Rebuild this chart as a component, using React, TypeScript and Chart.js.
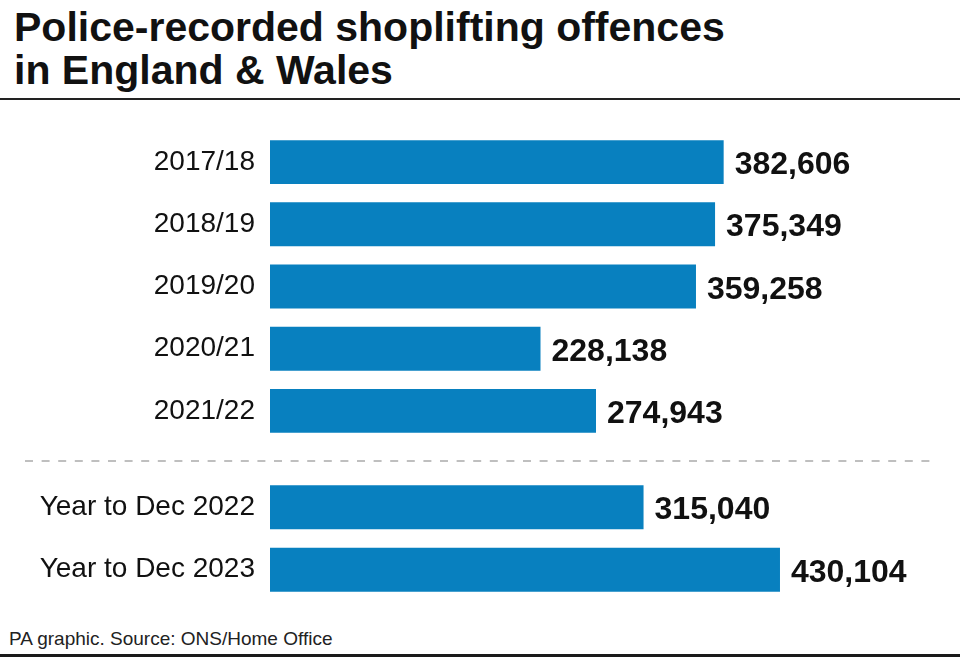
import React, { useEffect, useRef } from "react";
import { Chart, registerables } from "chart.js";

Chart.register(...registerables);

const topCategories = ["2017/18", "2018/19", "2019/20", "2020/21", "2021/22"];
const topValues = [382606, 375349, 359258, 228138, 274943];
const bottomCategories = ["Year to Dec 2022", "Year to Dec 2023"];
const bottomValues = [315040, 430104];

const BAR_COLOR = "#0880bf";
const X_MAX = 560000;
const FONT = "'Liberation Sans', Arial, sans-serif";

const valueLabels = {
  id: "valueLabels",
  afterDatasetsDraw(chart: any) {
    const ctx = chart.ctx;
    const meta = chart.getDatasetMeta(0);
    const data = chart.data.datasets[0].data as number[];
    ctx.save();
    ctx.font = `bold 32px ${FONT}`;
    ctx.fillStyle = "#111";
    ctx.textAlign = "left";
    ctx.textBaseline = "alphabetic";
    meta.data.forEach((bar: any, i: number) => {
      ctx.fillText(data[i].toLocaleString("en-GB"), bar.x + 11, bar.y + 12);
    });
    ctx.restore();
  },
};

const separator = {
  id: "separator",
  afterDraw(chart: any, _args: any, opts: any) {
    if (!opts || !opts.show) return;
    const ctx = chart.ctx;
    ctx.save();
    ctx.strokeStyle = "#ababab";
    ctx.lineWidth = 1.5;
    ctx.setLineDash([8, 8.6]);
    ctx.beginPath();
    ctx.moveTo(25, 11);
    ctx.lineTo(935, 11);
    ctx.stroke();
    ctx.restore();
  },
};

function makeConfig(labels: string[], values: number[], padTop: number, showSep: boolean): any {
  return {
    type: "bar",
    data: {
      labels,
      datasets: [
        {
          data: values,
          backgroundColor: BAR_COLOR,
          borderWidth: 0,
          barPercentage: 44 / 62.3,
          categoryPercentage: 1,
        },
      ],
    },
    options: {
      indexAxis: "y",
      animation: false,
      responsive: false,
      maintainAspectRatio: false,
      layout: { padding: { left: 0, right: 26, top: padTop, bottom: 0 } },
      plugins: {
        legend: { display: false },
        tooltip: { enabled: false },
        title: { display: false },
        separator: { show: showSep },
      },
      scales: {
        x: { display: false, min: 0, max: X_MAX },
        y: {
          grid: { display: false, drawTicks: false },
          border: { display: false },
          ticks: {
            color: "#111",
            font: { family: FONT, size: 28 },
            padding: 15,
          },
          afterFit: (scale: any) => {
            scale.width = 270;
            scale.paddingTop = 0;
            scale.paddingBottom = 0;
          },
        },
      },
    },
    plugins: [valueLabels, separator],
  };
}

function BarCanvas(props: {
  labels: string[];
  values: number[];
  top: number;
  height: number;
  padTop: number;
  sep: boolean;
}) {
  const ref = useRef<HTMLCanvasElement>(null);
  useEffect(() => {
    if (!ref.current) return;
    const chart = new Chart(ref.current, makeConfig(props.labels, props.values, props.padTop, props.sep));
    return () => chart.destroy();
  }, []);
  return (
    <canvas
      ref={ref}
      width={960}
      height={props.height}
      style={{ position: "absolute", left: 0, top: props.top, width: 960, height: props.height }}
    />
  );
}

export default function App() {
  return (
    <div
      style={{
        position: "absolute",
        left: 0,
        top: 0,
        width: 960,
        height: 661,
        background: "#fff",
        overflow: "hidden",
        fontFamily: FONT,
      }}
    >
      <div
        style={{
          position: "absolute",
          left: 14,
          top: 6,
          fontSize: 41,
          fontWeight: "bold",
          lineHeight: "43px",
          color: "#111",
          whiteSpace: "nowrap",
        }}
      >
        Police-recorded shoplifting offences
        <br />
        in England &amp; Wales
      </div>
      <div style={{ position: "absolute", left: 0, top: 98, width: 960, height: 2, background: "#222" }} />
      <BarCanvas labels={topCategories} values={topValues} top={131} height={311} padTop={0} sep={false} />
      <BarCanvas labels={bottomCategories} values={bottomValues} top={450} height={151} padTop={26} sep={true} />
      <div
        style={{
          position: "absolute",
          left: 9,
          top: 629,
          fontSize: 19,
          lineHeight: "19px",
          color: "#222",
          whiteSpace: "nowrap",
        }}
      >
        PA graphic. Source: ONS/Home Office
      </div>
      <div style={{ position: "absolute", left: 0, top: 654, width: 960, height: 3, background: "#1a1a1a" }} />
    </div>
  );
}
